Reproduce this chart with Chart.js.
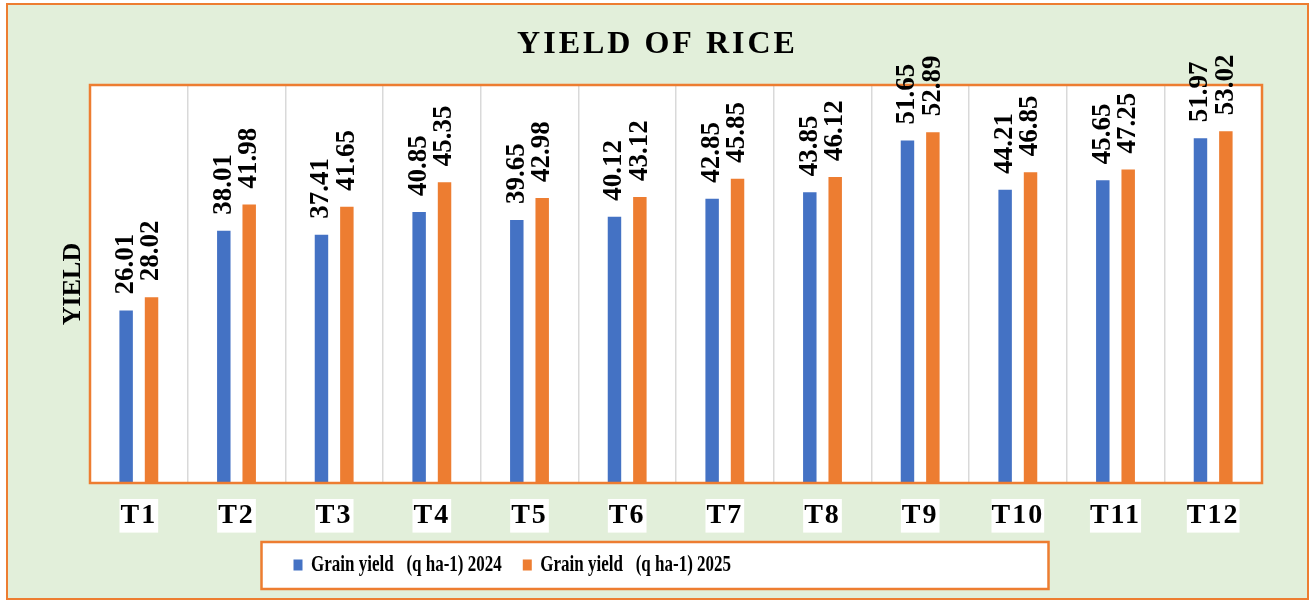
<!DOCTYPE html>
<html>
<head>
<meta charset="utf-8">
<script src="https://cdn.jsdelivr.net/npm/chart.js@4/dist/chart.umd.min.js"></script>
<style>
  html, body { margin: 0; padding: 0; background: #ffffff; }
  #wrap { width: 1310px; height: 601px; position: relative; }
</style>
</head>
<body>
<div id="wrap"><canvas id="c" width="1310" height="601"></canvas></div>
<script>
const categories = ['T1','T2','T3','T4','T5','T6','T7','T8','T9','T10','T11','T12'];
const yield2024 = [26.01, 38.01, 37.41, 40.85, 39.65, 40.12, 42.85, 43.85, 51.65, 44.21, 45.65, 51.97];
const yield2025 = [28.02, 41.98, 41.65, 45.35, 42.98, 43.12, 45.85, 46.12, 52.89, 46.85, 47.25, 53.02];
const seriesNames = ['Grain yield   (q ha-1) 2024', 'Grain yield   (q ha-1) 2025'];

const SERIF = '"Liberation Serif", "Times New Roman", serif';
const ORANGE = '#ed7d31';
const BLUE = '#4472c4';

function wrapMethod(obj, name, fn) {
  if (!obj || obj['__w_' + name]) return;
  const orig = obj[name].bind(obj);
  obj[name] = function(area) { fn(obj, orig, area); };
  obj['__w_' + name] = true;
}

const framePlugin = {
  id: 'frame',
  afterLayout(chart) {
    const lg = chart.legend;
    if (lg) {
      const boxLeft = chart.width / 2 - 393.5;
      lg.left = boxLeft + 32 - lg.options.labels.padding;
    }
    const tb = chart.titleBlock;
    if (tb) {
      tb.left = 0;
      tb.right = chart.width + 5;
    }
  },
  beforeDraw(chart) {
    const ctx = chart.ctx;
    const a = chart.chartArea;
    wrapMethod(chart.titleBlock, 'draw', (o, orig, area) => {
      ctx.save(); ctx.letterSpacing = '3px'; orig(area); ctx.restore();
    });
    wrapMethod(chart.scales.x, 'drawLabels', (o, orig, area) => {
      ctx.save(); ctx.letterSpacing = '2px'; orig(area); ctx.restore();
    });
    wrapMethod(chart.legend, 'draw', (o, orig, area) => {
      const lo = o.options.labels;
      const fs = lo.font.size;
      const y0 = o.top + lo.padding + Math.max(fs, lo.boxHeight) / 2;
      const cy = chart.height - 36;
      ctx.save();
      ctx.translate(0, cy);
      ctx.scale(1, 1.3);
      ctx.translate(0, -y0);
      orig(area);
      ctx.restore();
    });
    ctx.save();
    // outer frame
    ctx.fillStyle = '#e2efda';
    ctx.fillRect(7, 4, chart.width - 9, chart.height - 6);
    ctx.strokeStyle = ORANGE;
    ctx.lineWidth = 2;
    ctx.strokeRect(7, 4, chart.width - 9, chart.height - 6);
    // plot area
    ctx.fillStyle = '#ffffff';
    ctx.fillRect(a.left, a.top, a.right - a.left, a.bottom - a.top);
    // legend box
    const bx = chart.width / 2 - 393.5;
    const by = chart.height - 59;
    ctx.fillStyle = '#ffffff';
    ctx.fillRect(bx, by, 787, 47);
    ctx.strokeStyle = ORANGE;
    ctx.lineWidth = 2.5;
    ctx.strokeRect(bx, by, 787, 47);
    ctx.restore();
  },
  afterDatasetsDraw(chart) {
    const ctx = chart.ctx;
    const a = chart.chartArea;
    ctx.save();
    ctx.strokeStyle = ORANGE;
    ctx.lineWidth = 2.5;
    ctx.strokeRect(a.left, a.top, a.right - a.left, a.bottom - a.top);
    ctx.fillStyle = '#000000';
    ctx.font = 'bold 27px ' + SERIF;
    ctx.textAlign = 'left';
    ctx.textBaseline = 'middle';
    chart.data.datasets.forEach((ds, di) => {
      const meta = chart.getDatasetMeta(di);
      meta.data.forEach((el, i) => {
        ctx.save();
        ctx.translate(el.x, el.y - 16);
        ctx.rotate(-Math.PI / 2);
        ctx.fillText(Number(ds.data[i]).toFixed(2), 0, 0);
        ctx.restore();
      });
    });
    ctx.restore();
  }
};

new Chart(document.getElementById('c'), {
  type: 'bar',
  data: {
    labels: categories,
    datasets: [
      { label: seriesNames[0], data: yield2024, backgroundColor: BLUE, categoryPercentage: 0.52, barPercentage: 0.53 },
      { label: seriesNames[1], data: yield2025, backgroundColor: ORANGE, categoryPercentage: 0.52, barPercentage: 0.53 }
    ]
  },
  options: {
    responsive: false,
    animation: false,
    layout: { padding: { top: 0, left: 0, right: 48, bottom: 7 } },
    plugins: {
      title: {
        display: true,
        text: 'YIELD OF RICE',
        color: '#000000',
        font: { family: SERIF, size: 32, weight: 'bold', lineHeight: 1.2 },
        padding: { top: 25.8, bottom: 20.8 }
      },
      legend: {
        position: 'bottom',
        align: 'start',
        labels: {
          color: '#000000',
          font: { family: SERIF, size: 17, weight: 'bold' },
          boxWidth: 9,
          boxHeight: 8.5,
          padding: 21
        }
      },
      tooltip: { enabled: false }
    },
    scales: {
      x: {
        grid: { display: true, offset: true, color: '#d9d9d9', lineWidth: 1.5, drawTicks: false },
        border: { display: false },
        ticks: {
          color: '#000000',
          font: { family: SERIF, size: 28, weight: 'bold' },
          padding: 16,
          showLabelBackdrop: true,
          backdropColor: '#ffffff',
          backdropPadding: { x: 3, y: 0 }
        },
        afterFit(s) { s.height = 63; }
      },
      y: {
        min: 0,
        max: 60,
        grid: { display: false },
        border: { display: false },
        ticks: { display: false },
        title: {
          display: true,
          text: 'YIELD',
          color: '#000000',
          font: { family: SERIF, size: 26, weight: 'bold', lineHeight: 1.2 },
          padding: { top: 57.5, bottom: 0 }
        },
        afterFit(s) { s.width = 90; }
      }
    }
  },
  plugins: [framePlugin]
});
</script>
</body>
</html>
